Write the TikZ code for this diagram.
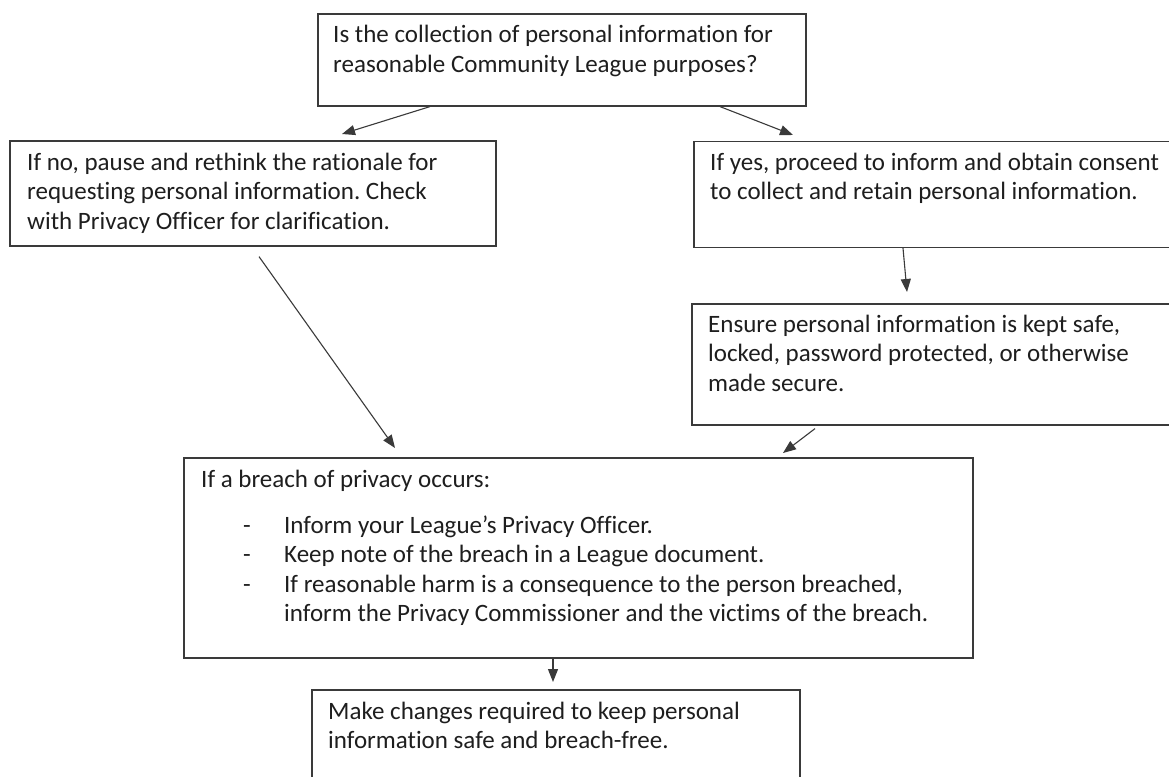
\documentclass[tikz,border=0pt]{standalone}
\usepackage{fontspec}
\setmainfont{Carlito}[Ligatures={NoCommon}]
\usetikzlibrary{arrows.meta}
\definecolor{ln}{HTML}{3A3A3A}
\definecolor{tx}{HTML}{1E1E1E}
\frenchspacing
\begin{document}
\begin{tikzpicture}[x=1pt,y=-1pt,
  box/.style={draw=ln, line width=1.6pt, rectangle, inner sep=0pt, anchor=north west},
  txt/.style={anchor=base west, inner sep=0pt, text=tx, font=\fontsize{25}{29.5}\selectfont},
  arr/.style={draw=ln, line width=1.1pt, -{Triangle[length=13pt,width=10pt]}}]
\useasboundingbox (0,0) rectangle (1169,776);
\clip (0,0) rectangle (1169,776);
\fill[white] (0,0) rectangle (1169,776);
% boxes
\node[box, minimum width=488pt, minimum height=92pt] (b1) at (317,13) {};
\node[box, minimum width=486pt, minimum height=105pt] (b2) at (9,140) {};
\node[box, minimum width=490pt, minimum height=106pt] (b3) at (693,140.5) {};
\node[box, minimum width=490pt, minimum height=121pt] (b4) at (691,303) {};
\node[box, minimum width=789pt, minimum height=200pt] (b5) at (183,457) {};
\node[box, minimum width=488pt, minimum height=100pt] (b6) at (311,689) {};
% texts
\node[txt] (t1) at (333,43) {\vtop{\hbox{Is the collection of personal information for}\hbox{reasonable Community League purposes?}}};
\node[txt] (t2) at (27,170) {\vtop{\hbox{If no, pause and rethink the rationale for}\hbox{requesting personal information. Check}\hbox{with Privacy Officer for clarification.}}};
\node[txt] (t3) at (710,170) {\vtop{\hbox{If yes, proceed to inform and obtain consent}\hbox{to collect and retain personal information.}}};
\node[txt] (t4) at (708,332) {\vtop{\hbox{Ensure personal information is kept safe,}\hbox{locked, password protected, or otherwise}\hbox{made secure.}}};
\node[txt] (t5) at (201,487) {\vtop{\hbox{If a breach of privacy occurs:}\vskip 16.5pt
  \hbox{\hspace{42pt}\makebox[41pt][l]{-}Inform your League’s Privacy Officer.}
  \hbox{\hspace{42pt}\makebox[41pt][l]{-}Keep note of the breach in a League document.}
  \hbox{\hspace{42pt}\makebox[41pt][l]{-}If reasonable harm is a consequence to the person breached,}
  \hbox{\hspace{83pt}inform the Privacy Commissioner and the victims of the breach.}}};
\node[txt] (t6) at (328,719) {\vtop{\hbox{Make changes required to keep personal}\hbox{information safe and breach-free.}}};
% connectors
\draw[arr] ([xshift=113pt]b1.south west) -- ([xshift=333pt,yshift=6pt]b2.north west);
\draw[arr] ([xshift=403pt]b1.south west) -- ([xshift=100pt,yshift=5.5pt]b3.north west);
\draw[arr] ([xshift=210pt]b3.south west) -- ([xshift=216pt,yshift=11pt]b4.north west);
\draw[arr] ([xshift=250pt,yshift=-10pt]b2.south west) -- ([xshift=212pt,yshift=9pt]b5.north west);
\draw[arr] ([xshift=124pt,yshift=-3pt]b4.south west) -- ([xshift=600pt,yshift=4pt]b5.north west);
\draw[arr] ([xshift=370pt]b5.south west) -- ([xshift=242pt,yshift=7pt]b6.north west);
\end{tikzpicture}
\end{document}
